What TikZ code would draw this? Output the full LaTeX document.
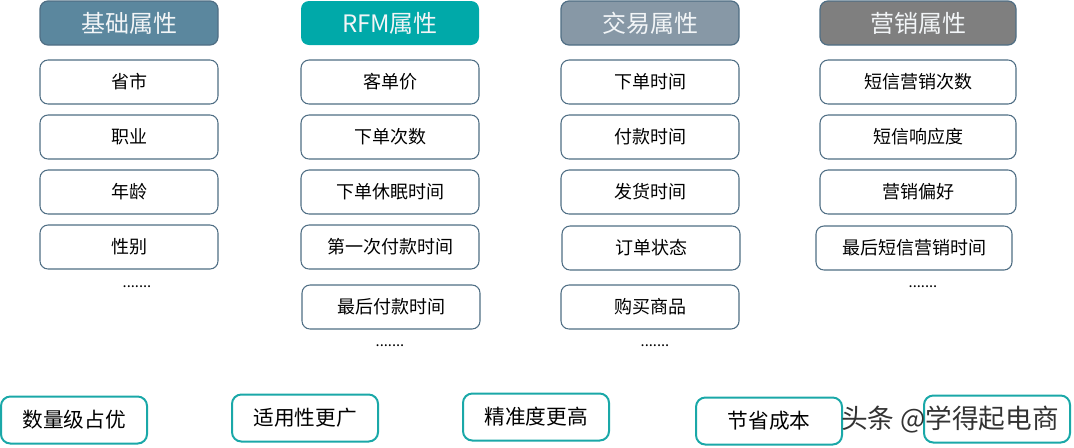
\documentclass[tikz,border=0pt]{standalone}
\usepackage{fontspec}
\setmainfont{Noto Sans CJK SC}
\usetikzlibrary{positioning}

\definecolor{hdrA}{HTML}{5B879E}
\definecolor{hdrB}{HTML}{00A9A9}
\definecolor{hdrC}{HTML}{8798A6}
\definecolor{hdrD}{HTML}{7F7F7F}
\definecolor{edge}{HTML}{4F6E84}
\definecolor{tealedge}{HTML}{1AA8A8}

\tikzset{
  hdr/.style={draw=edge, line width=0.9pt, rounded corners=6pt, text=white!92!hdrA,
    minimum width=178*0.75pt, minimum height=44*0.75pt, font=\fontsize{18}{20}\selectfont},
  item/.style={draw=edge, line width=0.8pt, fill=white, rounded corners=6pt,
    minimum width=178*0.75pt, minimum height=44*0.75pt, font=\fontsize{13.5}{15}\selectfont},
  gain/.style={draw=tealedge, line width=1.5pt, rounded corners=7pt,
    minimum width=146*0.75pt, minimum height=47*0.75pt, font=\fontsize{15.5}{17}\selectfont},
  more/.style={font=\fontsize{11}{12}\selectfont}
}

\begin{document}
\begin{tikzpicture}[x=0.75pt,y=-0.75pt]

\useasboundingbox (0,0) rectangle (1074,447);

\node[hdr, fill=hdrA] (basic) at (129,23) {基础属性};
\node[hdr, fill=hdrB, draw=none] (rfm) at (390,23) {RFM属性};
\node[hdr, fill=hdrC] (trade) at (650,23) {交易属性};
\node[hdr, fill=hdrD, minimum width=196*0.75pt] (mkt) at (918,23) {营销属性};

\foreach \t [count=\i] in {省市,职业,年龄,性别}{% first column
    \node[item] (basic\i) at (129,27+55*\i) {\t};}
\node[more] (basicmore) at (137,287) {.......};

\foreach \t [count=\i] in {客单价,下单次数,下单休眠时间,第一次付款时间}{
    \node[item] (rfm\i) at (390,27+55*\i) {\t};}
\node[item] (rfm5) at (391,307) {最后付款时间};
\node[more] (rfmmore) at (390,346) {.......};

\foreach \t [count=\i] in {下单时间,付款时间,发货时间}{
    \node[item] (trade\i) at (650,27+55*\i) {\t};}
\node[item] (trade4) at (651,248) {订单状态};
\node[item] (trade5) at (650,307) {购买商品};
\node[more] (trademore) at (655,346) {.......};

\foreach \t [count=\i] in {短信营销次数,短信响应度,营销偏好}{
    \node[item, minimum width=196*0.75pt] (mkt\i) at (918,27+55*\i) {\t};}
\node[item, minimum width=196*0.75pt] (mkt4) at (914,248) {最后短信营销时间};
\node[more] (mktmore) at (923,287) {.......};

\node[gain] (gain1) at (74,420) {数量级占优};
\node[gain] (gain2) at (305,418) {适用性更广};
\node[gain] (gain3) at (536,417) {精准度更高};
\node[gain] (gain4) at (769,421) {节省成本};
\node[gain] (gain5) at (997,419) {};

\node[text=black!80, font=\fontsize{20}{22}\selectfont] (mark) at (950,419) {头条 @学得起电商};

\end{tikzpicture}
\end{document}
